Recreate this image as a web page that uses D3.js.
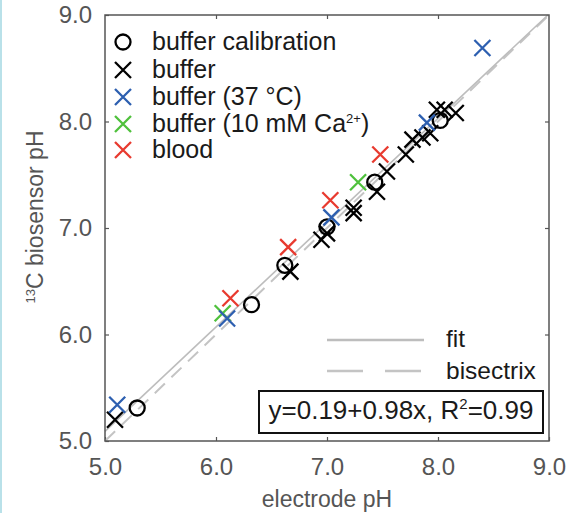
<!DOCTYPE html>
<html>
<head>
<meta charset="utf-8">
<script src="https://cdn.jsdelivr.net/npm/d3@7"></script>
<style>
  body { margin: 0; background: #fff; }
  svg { display: block; font-family: "Liberation Sans", Arial, sans-serif; }
</style>
</head>
<body>
<svg id="chart" width="577" height="513"></svg>
<script>
// Data (electrode pH vs 13C biosensor pH)
var calibX = [5.29, 6.32, 6.62, 7.00, 7.43, 8.02];
var calibY = [5.31, 6.28, 6.65, 7.01, 7.43, 8.01];

var bufferX = [5.09, 6.67, 6.95, 7.00, 7.24, 7.24, 7.45, 7.54, 7.71, 7.77, 7.86, 7.93, 7.99, 8.06, 8.16];
var bufferY = [5.20, 6.59, 6.89, 6.95, 7.19, 7.14, 7.34, 7.53, 7.69, 7.83, 7.85, 7.89, 8.11, 8.11, 8.08];

var warmX = [5.11, 6.10, 7.04, 7.90, 8.40];
var warmY = [5.34, 6.15, 7.10, 7.99, 8.69];

var calciumX = [6.06, 7.28];
var calciumY = [6.20, 7.43];

var bloodX = [6.13, 6.65, 7.03, 7.48];
var bloodY = [6.34, 6.82, 7.26, 7.69];

var fitA = 0.19, fitB = 0.98;
var ticks = [5, 6, 7, 8, 9];

var svg = d3.select("#chart");
var margin = {left: 105, right: 28, top: 15, bottom: 72};
var width = 577 - margin.left - margin.right;
var height = 513 - margin.top - margin.bottom;

// light blue strip on the left edge
svg.append("rect").attr("x", 0).attr("y", 0).attr("width", 2).attr("height", 513).attr("fill", "#b9e1e9");

var g = svg.append("g").attr("transform", `translate(${margin.left},${margin.top})`);

var x = d3.scaleLinear().domain([5, 9]).range([0, width]);
var y = d3.scaleLinear().domain([5, 9]).range([height, 0]);

// Axes (ticks pointing inwards on all four sides)
var axisColor = "#555";
function styleAxis(sel) {
    sel.select(".domain").remove();
    sel.selectAll(".tick line").attr("stroke", axisColor).attr("stroke-width", 1.2);
    sel.selectAll(".tick text").attr("fill", "#555").style("font-size", "24px");
}

g.append("g").attr("transform", `translate(0,${height})`)
    .call(d3.axisBottom(x).tickValues(ticks).tickFormat(d3.format(".1f")).tickSizeInner(-4).tickPadding(17))
    .call(styleAxis);
g.append("g")
    .call(d3.axisLeft(y).tickValues(ticks).tickFormat(d3.format(".1f")).tickSizeInner(-4).tickPadding(13))
    .call(styleAxis);
g.append("g")
    .call(d3.axisTop(x).tickValues(ticks.slice(1, 4)).tickFormat("").tickSizeInner(-4))
    .call(styleAxis);
g.append("g").attr("transform", `translate(${width},0)`)
    .call(d3.axisRight(y).tickValues(ticks.slice(1, 4)).tickFormat("").tickSizeInner(-4))
    .call(styleAxis);

// Fit and bisectrix lines
var line = d3.line().x(d => x(d[0])).y(d => y(d[1]));
g.append("path")
    .datum([[5, 5], [9, 9]])
    .attr("d", line).attr("fill", "none")
    .attr("stroke", "#c4c4c4").attr("stroke-width", 2).attr("stroke-dasharray", "14,9");
g.append("path")
    .datum([[5, fitA + fitB * 5], [(9 - fitA) / fitB, 9]])
    .attr("d", line).attr("fill", "none")
    .attr("stroke", "#bdbdbd").attr("stroke-width", 1.6);

// frame
g.append("rect").attr("width", width).attr("height", height)
    .attr("fill", "none").attr("stroke", axisColor).attr("stroke-width", 1.5);

// Markers
var cs = 8;
function drawCrosses(xs, ys, color) {
    xs.forEach((v, i) => {
        var px = x(v), py = y(ys[i]);
        g.append("path")
            .attr("d", `M${px - cs},${py - cs}L${px + cs},${py + cs}M${px - cs},${py + cs}L${px + cs},${py - cs}`)
            .attr("stroke", color).attr("stroke-width", 2.3).attr("fill", "none");
    });
}

calibX.forEach((v, i) => {
    g.append("circle").attr("cx", x(v)).attr("cy", y(calibY[i])).attr("r", 7.5)
        .attr("fill", "none").attr("stroke", "#000").attr("stroke-width", 2.3);
});
drawCrosses(bufferX, bufferY, "#000");
drawCrosses(calciumX, calciumY, "#4fc13c");
drawCrosses(warmX, warmY, "#2d5fb0");
drawCrosses(bloodX, bloodY, "#e83a2f");

// Legend, top left
var legend = [
    {label: "buffer calibration", color: "#000", circle: true},
    {label: "buffer", color: "#000"},
    {label: "buffer (37 °C)", color: "#2d5fb0"},
    {label: "buffer (10 mM Ca", sup: "2+", tail: ")", color: "#4fc13c"},
    {label: "blood", color: "#e83a2f"}
];
var legendRows = [42, 70, 97, 124, 150];
legend.forEach((d, i) => {
    var ly = legendRows[i];
    var lx = 123;
    if (d.circle) {
        svg.append("circle").attr("cx", lx).attr("cy", ly).attr("r", 7.5)
            .attr("fill", "none").attr("stroke", d.color).attr("stroke-width", 2.3);
    } else {
        svg.append("path")
            .attr("d", `M${lx - cs},${ly - cs}L${lx + cs},${ly + cs}M${lx - cs},${ly + cs}L${lx + cs},${ly - cs}`)
            .attr("stroke", d.color).attr("stroke-width", 2.3);
    }
    var t = svg.append("text").attr("x", 152).attr("y", ly + 8)
        .attr("fill", "#1a1a1a").style("font-size", "25px").text(d.label);
    if (d.sup) {
        t.append("tspan").attr("dy", -9).style("font-size", "13px").text(d.sup);
        t.append("tspan").attr("dy", 9).text(d.tail);
    }
});

// Legend, bottom right
svg.append("line").attr("x1", 327).attr("x2", 424).attr("y1", 340).attr("y2", 340)
    .attr("stroke", "#bdbdbd").attr("stroke-width", 2.5);
svg.append("line").attr("x1", 327).attr("x2", 422).attr("y1", 371).attr("y2", 371)
    .attr("stroke", "#c4c4c4").attr("stroke-width", 2.5).attr("stroke-dasharray", "36,22");
svg.append("text").attr("x", 446).attr("y", 347).attr("fill", "#1a1a1a").style("font-size", "24.5px").text("fit");
svg.append("text").attr("x", 446).attr("y", 379).attr("fill", "#1a1a1a").style("font-size", "24.5px").text("bisectrix");

// Fit equation box
svg.append("rect").attr("x", 259).attr("y", 391).attr("width", 284).attr("height", 42)
    .attr("fill", "#fff").attr("stroke", "#111").attr("stroke-width", 2);
var eq = svg.append("text").attr("x", 401).attr("y", 419).attr("text-anchor", "middle")
    .attr("fill", "#1a1a1a").style("font-size", "26px").text(`y=${fitA}+${fitB}x, R`);
eq.append("tspan").attr("dy", -10).style("font-size", "15px").text("2");
eq.append("tspan").attr("dy", 10).text("=0.99");

// Axis titles
svg.append("text").attr("x", margin.left + width / 2).attr("y", 507).attr("text-anchor", "middle")
    .attr("fill", "#555").style("font-size", "23px").text("electrode pH");
var yt = svg.append("text").attr("transform", `translate(43,217) rotate(-90)`)
    .attr("text-anchor", "middle").attr("fill", "#555").style("font-size", "23px");
yt.append("tspan").attr("dy", -8).style("font-size", "13px").text("13");
yt.append("tspan").attr("dy", 8).text("C biosensor pH");
</script>
</body>
</html>
